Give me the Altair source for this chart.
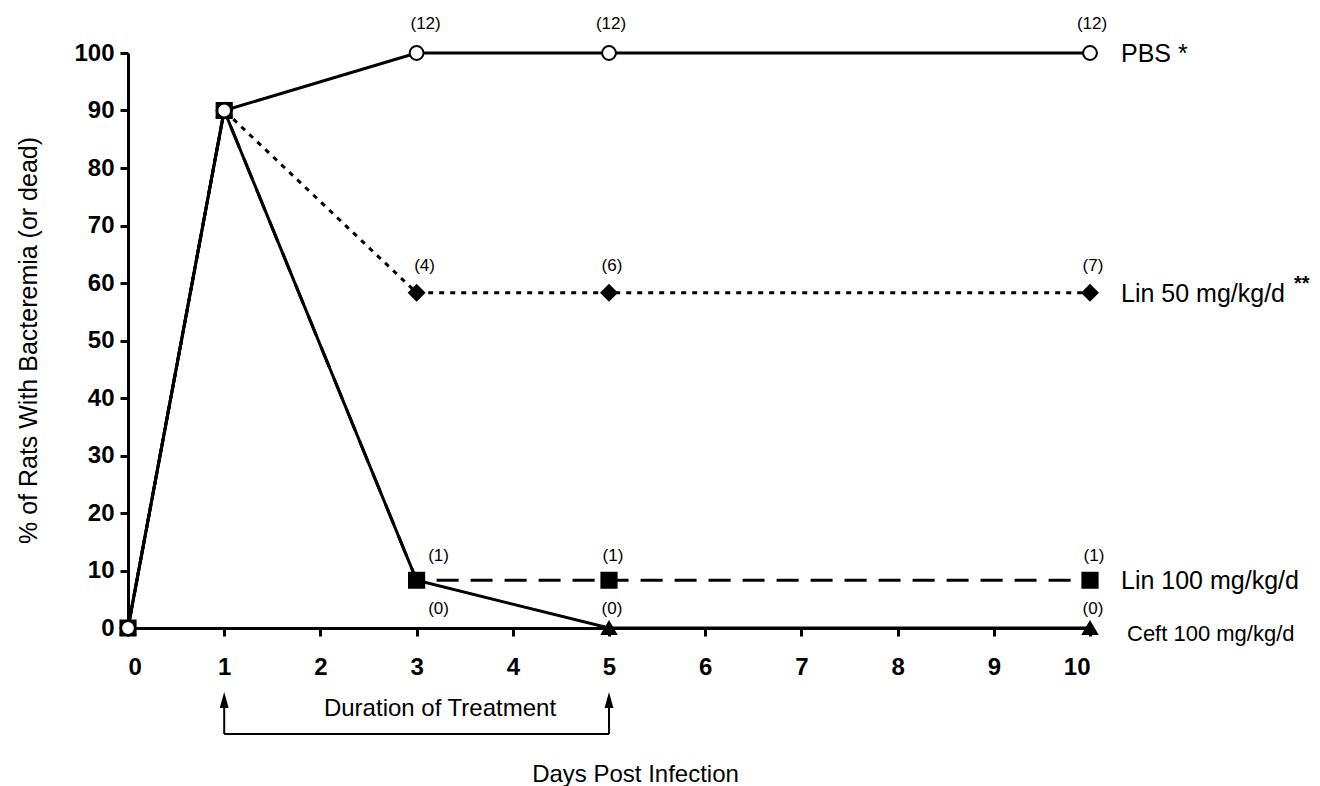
import altair as alt
import pandas as pd

# ---- data ----
days = [0, 1, 3, 5, 10]
pbs = [0, 90, 100, 100, 100]
lin50 = [0, 90, 58.3, 58.3, 58.3]
lin100 = [0, 90, 8.3, 8.3, 8.3]
ceft = [0, 90, 8.3, 0, 0]

count_days = [3, 5, 10]
pbs_n = ["(12)", "(12)", "(12)"]
lin50_n = ["(4)", "(6)", "(7)"]
lin100_n = ["(1)", "(1)", "(1)"]
ceft_n = ["(0)", "(0)", "(0)"]

series_names = ["PBS", "Lin50", "Lin100", "Ceft"]
series_labels = ["PBS *", "Lin 50 mg/kg/d", "Lin 100 mg/kg/d", "Ceft 100 mg/kg/d"]
x_ticks = list(range(0, 11))
y_ticks = list(range(0, 101, 10))
treatment_days = [1, 5]

FONT = "Liberation Sans"

vals = {"PBS": pbs, "Lin50": lin50, "Lin100": lin100, "Ceft": ceft}
cnts = {"PBS": pbs_n, "Lin50": lin50_n, "Lin100": lin100_n, "Ceft": ceft_n}

rows = []
for s in series_names:
    for d, v in zip(days, vals[s]):
        rows.append({"series": s, "day": d, "pct": v})
df = pd.DataFrame(rows)

# count labels sit on the row of each group's final value
crow = []
for s in series_names:
    for d, c in zip(count_days, cnts[s]):
        crow.append({"series": s, "day": d, "pct": vals[s][-1], "n": c})
cdf = pd.DataFrame(crow)

ldf = pd.DataFrame({
    "series": series_names,
    "label": series_labels,
    "day": [10] * 4,
    "pct": [vals[s][-1] for s in series_names],
})

tdf = pd.DataFrame({"day": treatment_days})

xs = alt.Scale(domain=[0, 10], nice=False, zero=False)
ys = alt.Scale(domain=[0, 100], nice=False)

X = alt.X("day:Q", scale=xs, axis=alt.Axis(
    values=x_ticks, format="d", title="Days Post Infection",
    labelFont=FONT, labelFontWeight="bold", labelFontSize=24, labelColor="black",
    labelPadding=19, tickSize=8, tickWidth=3, tickColor="black",
    domainWidth=3, domainColor="black", grid=False,
    titleFont=FONT, titleFontSize=24, titleFontWeight="normal", titleColor="black",
    titleX=507, titleY=146, titleAlign="center", titleBaseline="middle",
))
Y = alt.Y("pct:Q", scale=ys, axis=alt.Axis(
    values=y_ticks, format="d", title="% of Rats With Bacteremia (or dead)",
    labelFont=FONT, labelFontWeight="bold", labelFontSize=24, labelColor="black",
    labelPadding=6, tickSize=8, tickWidth=3, tickColor="black",
    domainWidth=3, domainColor="black", grid=False,
    titleFont=FONT, titleFontSize=25, titleFontWeight="normal", titleColor="black",
    titleX=-100, titleY=287, titleAlign="center", titleBaseline="middle", titleAngle=-90,
))

base = alt.Chart(df)


def line(s, dash=None):
    kw = dict(color="black", strokeWidth=3)
    if dash:
        kw["strokeDash"] = dash
    return base.transform_filter(f"datum.series == '{s}'").mark_line(**kw).encode(x=X, y=Y)


def pts(s, shape, size, filled=True):
    return base.transform_filter(f"datum.series == '{s}'").mark_point(
        shape=shape, size=size, filled=filled, color="black",
        fill="black" if filled else "white", stroke="black", strokeWidth=2, opacity=1,
    ).encode(x=X, y=Y)


def counts(s, dy, dx3, dxo):
    c = alt.Chart(cdf).transform_filter(f"datum.series == '{s}'")
    a = c.transform_filter("datum.day == 3").mark_text(
        font=FONT, fontSize=17, color="black", dx=dx3, dy=dy).encode(x=X, y=Y, text="n:N")
    b = c.transform_filter("datum.day != 3").mark_text(
        font=FONT, fontSize=17, color="black", dx=dxo, dy=dy).encode(x=X, y=Y, text="n:N")
    return a + b


lines = (line("Lin50", [5, 6]) + line("Lin100", [22, 12]) + line("Ceft") + line("PBS"))
markers = (pts("Ceft", "triangle-up", 200) + pts("Lin100", "square", 230)
           + pts("Lin50", "diamond", 230) + pts("PBS", "circle", 190, filled=False))
labels = (counts("PBS", -29, 9, 2) + counts("Lin50", -27, 8, 3)
          + counts("Lin100", -24, 22, 4) + counts("Ceft", -19, 22, 3))

lc = alt.Chart(ldf)
right_main = lc.transform_filter("datum.series != 'Ceft'").mark_text(
    font=FONT, fontSize=25, color="black", align="left", dx=31, dy=1
).encode(x=X, y=Y, text="label:N")
right_ceft = lc.transform_filter("datum.series == 'Ceft'").mark_text(
    font=FONT, fontSize=22, color="black", align="left", dx=37, dy=6
).encode(x=X, y=Y, text="label:N")
stars = lc.transform_filter("datum.series == 'Lin50'").mark_text(
    font=FONT, fontSize=20, fontWeight="bold", color="black", align="left", dx=204, dy=-9
).encode(x=X, y=Y, text=alt.value("**"))

# treatment-duration bracket below the axis
tc = alt.Chart(tdf)
shafts = tc.mark_rule(color="black", strokeWidth=2).encode(
    x=X, y=alt.value(650), y2=alt.value(681))
heads = tc.mark_point(
    shape="M-0.55,1L0,-1L0.55,1Z", size=260, filled=True, color="black", opacity=1
).encode(x=X, y=alt.value(647))
bar = tc.transform_aggregate(lo="min(day)", hi="max(day)").mark_rule(
    color="black", strokeWidth=2).encode(
    x=alt.X("lo:Q", scale=xs), x2="hi:Q", y=alt.value(681))
dur = alt.Chart(pd.DataFrame({"t": ["Duration of Treatment"]})).mark_text(
    font=FONT, fontSize=24, color="black", align="center", baseline="middle"
).encode(x=alt.value(312), y=alt.value(656), text="t:N")

chart = alt.layer(
    lines, markers, labels, right_main, right_ceft, stars, shafts, heads, bar, dur
).properties(
    width=962, height=575,
    padding={"left": 120, "top": 45, "right": 222, "bottom": 158},
    autosize=alt.AutoSizeParams(type="none"),
).configure_view(stroke=None)

chart.save("out.html", embed_options={"renderer": "svg", "actions": False})
